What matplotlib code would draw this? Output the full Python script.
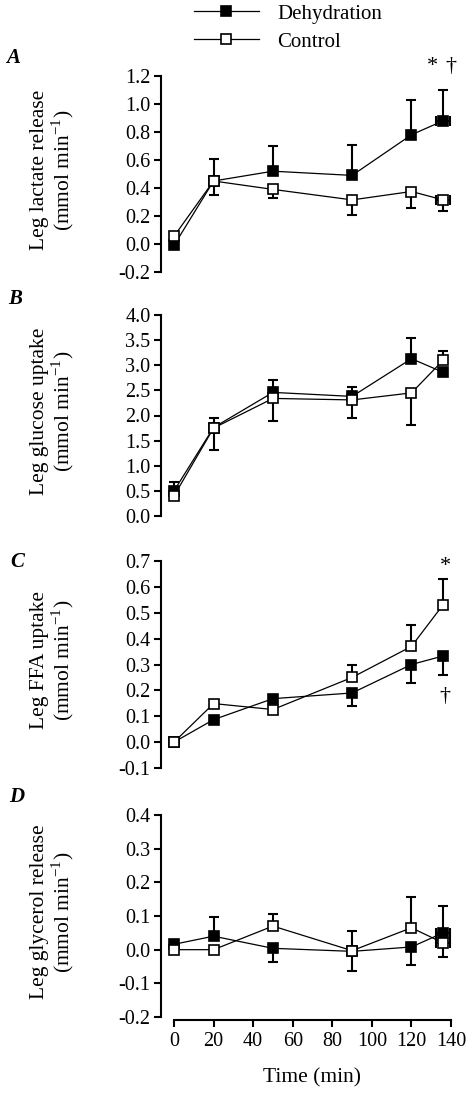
import numpy as np
import matplotlib
matplotlib.use('Agg')
import matplotlib.pyplot as plt

plt.rcParams['font.family'] = ['Liberation Serif', 'DejaVu Serif']
plt.rcParams['mathtext.fontset'] = 'stix'

# ---------------- data ----------------
time = [0, 20, 50, 90, 120, 136]
last_time_err = 3.5

# A: leg lactate release
lac_dehy = [-0.01, 0.45, 0.52, 0.49, 0.78, 0.88]
lac_dehy_up = [0, 0.155, 0.18, 0.22, 0.25, 0.22]
lac_dehy_dn = [0, 0, 0, 0, 0, 0]
lac_ctrl = [0.055, 0.45, 0.39, 0.315, 0.375, 0.315]
lac_ctrl_up = [0, 0, 0, 0, 0, 0]
lac_ctrl_dn = [0, 0.10, 0.06, 0.11, 0.12, 0.08]

# B: leg glucose uptake
glu_dehy = [0.50, 1.76, 2.46, 2.38, 3.13, 2.86]
glu_dehy_up = [0.17, 0.20, 0.24, 0.18, 0.41, 0]
glu_dehy_dn = [0, 0, 0, 0, 0, 0]
glu_ctrl = [0.40, 1.75, 2.34, 2.31, 2.45, 3.10]
glu_ctrl_up = [0, 0, 0, 0, 0, 0.18]
glu_ctrl_dn = [0, 0.44, 0.44, 0.36, 0.64, 0]

# C: leg FFA uptake
ffa_dehy = [0.0, 0.087, 0.168, 0.19, 0.30, 0.333]
ffa_dehy_up = [0, 0, 0, 0, 0, 0]
ffa_dehy_dn = [0, 0, 0, 0.05, 0.07, 0.075]
ffa_ctrl = [0.0, 0.149, 0.126, 0.25, 0.37, 0.531]
ffa_ctrl_up = [0, 0, 0, 0.048, 0.083, 0.10]
ffa_ctrl_dn = [0, 0, 0, 0, 0, 0]

# D: leg glycerol release
gly_dehy = [0.016, 0.04, 0.004, -0.005, 0.008, 0.05]
gly_dehy_up = [0, 0.056, 0, 0, 0, 0.081]
gly_dehy_dn = [0, 0, 0.04, 0.058, 0.054, 0]
gly_ctrl = [0.0, 0.0, 0.07, -0.003, 0.065, 0.02]
gly_ctrl_up = [0, 0, 0.035, 0.057, 0.09, 0]
gly_ctrl_dn = [0, 0, 0, 0, 0, 0.043]

panel_letters = ['A', 'B', 'C', 'D']
ylabels = ['Leg lactate release', 'Leg glucose uptake', 'Leg FFA uptake', 'Leg glycerol release']
unit = '(mmol min$^{\\mathregular{-1}}$)'
ylims = [(-0.2, 1.2), (0.0, 4.0), (-0.1, 0.7), (-0.2, 0.4)]
ysteps = [0.2, 0.5, 0.1, 0.1]
xticks = [0, 20, 40, 60, 80, 100, 120, 140]
last_xerr_panels = [True, False, False, True]

panels = [
    (lac_dehy, lac_dehy_up, lac_dehy_dn, lac_ctrl, lac_ctrl_up, lac_ctrl_dn),
    (glu_dehy, glu_dehy_up, glu_dehy_dn, glu_ctrl, glu_ctrl_up, glu_ctrl_dn),
    (ffa_dehy, ffa_dehy_up, ffa_dehy_dn, ffa_ctrl, ffa_ctrl_up, ffa_ctrl_dn),
    (gly_dehy, gly_dehy_up, gly_dehy_dn, gly_ctrl, gly_ctrl_up, gly_ctrl_dn),
]

# ---------------- layout ----------------
W, H = 473, 1097
fig = plt.figure(figsize=(W / 100, H / 100), dpi=100)
ax_px = [(76, 272), (315, 516), (561, 768), (815, 1017)]
left_px, right_px = 161, 455
x_min, x_max = -6.57, 142.0

ms = 7.5
mew = 1.2
elw = 1.5
cap = 3.5


def draw_err(ax, t, y, up, dn, z):
    t = np.asarray(t, float); y = np.asarray(y, float)
    up = np.asarray(up, float); dn = np.asarray(dn, float)
    m = up > 0
    if m.any():
        ax.errorbar(t[m], y[m], yerr=[np.zeros(m.sum()), up[m]], fmt='none',
                    ecolor='black', elinewidth=elw, capsize=cap, capthick=elw,
                    zorder=z, clip_on=False)
    m = dn > 0
    if m.any():
        ax.errorbar(t[m], y[m], yerr=[dn[m], np.zeros(m.sum())], fmt='none',
                    ecolor='black', elinewidth=elw, capsize=cap, capthick=elw,
                    zorder=z, clip_on=False)


axes = []
for i, (top, bot) in enumerate(ax_px):
    ax = fig.add_axes([left_px / W, 1 - bot / H, (right_px - left_px) / W, (bot - top) / H])
    axes.append(ax)
    dehy, dup, ddn, ctrl, cup, cdn = panels[i]

    draw_err(ax, time, dehy, dup, ddn, 2)
    draw_err(ax, time, ctrl, cup, cdn, 2)
    if last_xerr_panels[i]:
        ax.errorbar([time[-1]], [dehy[-1]], xerr=[last_time_err], fmt='none', ecolor='black',
                    elinewidth=elw, capsize=cap, capthick=elw, zorder=2, clip_on=False)
        ax.errorbar([time[-1]], [ctrl[-1]], xerr=[last_time_err], fmt='none', ecolor='black',
                    elinewidth=elw, capsize=cap, capthick=elw, zorder=2, clip_on=False)

    l1, = ax.plot(time, dehy, '-', color='black', lw=0.9, marker='s', ms=ms,
                  mfc='black', mec='black', mew=mew, zorder=3, clip_on=False, label='Dehydration')
    l2, = ax.plot(time, ctrl, '-', color='black', lw=0.9, marker='s', ms=ms,
                  mfc='white', mec='black', mew=mew, zorder=4, clip_on=False, label='Control')
    if i == 0:
        handles = [l1, l2]

    lo, hi = ylims[i]
    ticks = np.round(np.arange(lo, hi + ysteps[i] / 2, ysteps[i]), 2)
    ax.set_xlim(x_min, x_max)
    ax.set_ylim(lo, hi)
    ax.set_yticks(ticks)
    ax.set_yticklabels(['%.1f' % v if abs(v) > 1e-9 else '0.0' for v in ticks])
    ax.patch.set_visible(False)
    for s in ['top', 'right']:
        ax.spines[s].set_visible(False)
    ax.spines['left'].set_linewidth(1.5)
    ax.tick_params(axis='y', direction='out', length=5, width=1.5, labelsize=14.5, pad=2.5)

    if i < 3:
        ax.spines['bottom'].set_visible(False)
        ax.tick_params(axis='x', bottom=False, labelbottom=False)
    else:
        ax.spines['bottom'].set_linewidth(1.5)
        ax.spines['bottom'].set_bounds(0, 140)
        ax.spines['bottom'].set_position(('outward', 2))
        ax.set_xticks(xticks)
        ax.tick_params(axis='x', direction='out', length=5, width=1.5, labelsize=14.5, pad=4)
        ax.set_xlabel('Time (min)', fontsize=15.5)
        ax.xaxis.set_label_coords(0.514, -0.255)

    ax.set_ylabel(ylabels[i] + '\n' + unit, fontsize=15.5, linespacing=1.05)
    ax.yaxis.set_label_coords(-0.29, 0.52)

# panel letters
letter_pos = [(13, 58), (15, 299), (17, 562), (17, 797)]
for (lx, ly), letter in zip(letter_pos, panel_letters):
    fig.text(lx / W, 1 - ly / H, letter, fontsize=15, fontweight='bold', fontstyle='italic',
             ha='center', va='center')

# significance marks
axes[0].text(130.5, 1.27, '*', fontsize=16, ha='center', va='center', clip_on=False)
axes[0].text(140.0, 1.27, '\u2020', fontsize=16, ha='center', va='center', clip_on=False)
axes[2].text(137.0, 0.68, '*', fontsize=16, ha='center', va='center', clip_on=False)
axes[2].text(137.0, 0.175, '\u2020', fontsize=16, ha='center', va='center', clip_on=False)

# legend
fig.legend(handles=handles, labels=['Dehydration', 'Control'], loc='upper left',
           bbox_to_anchor=(192 / W, 1 - 2 / H), frameon=False, fontsize=15,
           handlelength=3.1, handletextpad=0.9, labelspacing=0.4, borderpad=0.1,
           numpoints=1, borderaxespad=0)

fig.savefig('out.png', dpi=100)
